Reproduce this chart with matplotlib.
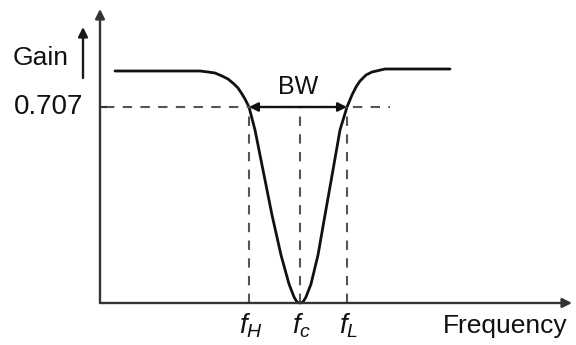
import numpy as np
import matplotlib.pyplot as plt

plt.rcParams['font.family'] = ['Liberation Sans', 'DejaVu Sans']
plt.rcParams['mathtext.fontset'] = 'custom'
plt.rcParams['mathtext.rm'] = 'Liberation Sans'
plt.rcParams['mathtext.it'] = 'Liberation Sans:italic'

# band-stop response (drawing units)
freq = [15, 100, 108, 115, 122, 128, 134, 138, 142, 145, 149, 155, 163, 172, 181,
        189, 194, 197, 200, 203, 206, 211, 218, 225, 233, 240, 247, 252, 256, 260, 266,
        272, 285, 350]
gain = [232, 232, 231, 230, 227, 224, 219, 215, 209, 204, 196, 173, 133, 88, 48,
        19, 6, 1, 0, 1, 6, 19, 48, 88, 133, 173, 196, 208, 216, 222, 228,
        231, 234, 234]

half_power = 196          # level of the 0.707 line
f_marks = [149, 200, 247]  # fH, fc, fL
f_labels = [r'$f_H$', r'$f_c$', r'$f_L$']

fig = plt.figure(figsize=(5.76, 3.45), dpi=100)
ax = fig.add_axes([0, 0, 1, 1])
ax.set_xlim(-100, 476)
ax.set_ylim(-42, 303)
ax.axis('off')

axc = '#333333'
txt = '#111111'
# axes with arrows
ax.annotate('', xy=(472, 0), xytext=(0, 0),
            arrowprops=dict(arrowstyle='-|>', color=axc, lw=1.7, mutation_scale=14,
                            shrinkA=0, shrinkB=0))
ax.annotate('', xy=(0, 294), xytext=(0, 0),
            arrowprops=dict(arrowstyle='-|>', color=axc, lw=1.7, mutation_scale=14,
                            shrinkA=0, shrinkB=0))
# gain arrow next to label
ax.annotate('', xy=(-17, 276), xytext=(-17, 225),
            arrowprops=dict(arrowstyle='-|>', color='#1a1a1a', lw=1.7, mutation_scale=14,
                            shrinkA=0, shrinkB=0))

# response curve
ax.plot(freq, gain, color='#111111', lw=2.0, solid_capstyle='round')

# 0.707 dashed line and tick
ax.plot([5, 290], [half_power, half_power], color='#555555', lw=1.5,
        dashes=(4.5, 4))
ax.plot([0, 6], [half_power, half_power], color=axc, lw=1.5)

# vertical dashed markers
for f in f_marks:
    ax.plot([f, f], [0, half_power], color='#555555', lw=1.5, dashes=(4.5, 4))

# bandwidth arrow
ax.annotate('', xy=(f_marks[0], half_power), xytext=(f_marks[2], half_power),
            arrowprops=dict(arrowstyle='<|-|>', color='#111111', lw=1.7,
                            mutation_scale=13, shrinkA=0, shrinkB=0))
ax.text(198, 216, 'BW', fontsize=18, ha='center', va='center', color=txt)

# labels
ax.text(-59, 245, 'Gain', fontsize=19, ha='center', va='center', color=txt)
ax.text(-51, half_power, '0.707', fontsize=20, ha='center', va='center', color=txt)
for f, lab in zip(f_marks, f_labels):
    ax.text(f + 2, -23, lab, fontsize=20, ha='center', va='center', color=txt)
ax.text(405, -23, 'Frequency', fontsize=19, ha='center', va='center', color=txt)

fig.savefig('out.png', dpi=100)
